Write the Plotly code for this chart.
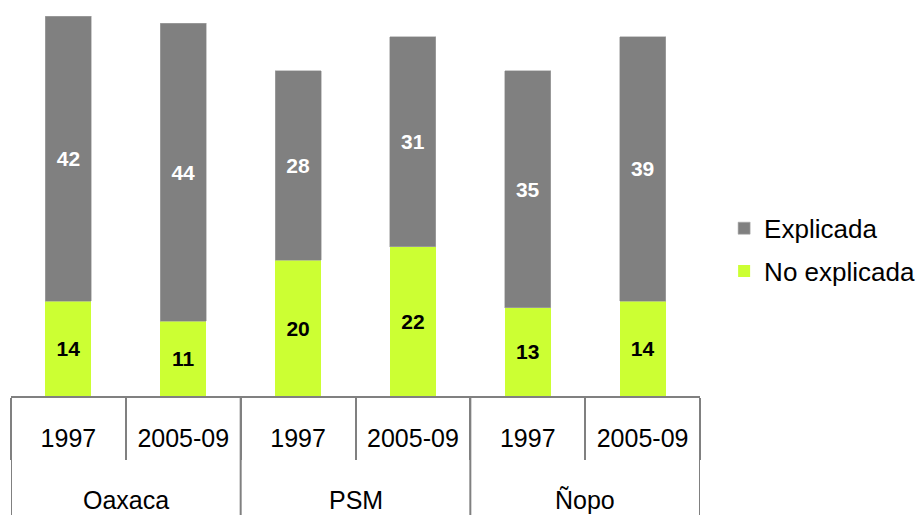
import plotly.graph_objects as go

groups = ["Oaxaca", "PSM", "Ñopo"]
years = ["1997", "2005-09", "1997", "2005-09", "1997", "2005-09"]
no_explicada = [14, 11, 20, 22, 13, 14]
explicada = [42, 44, 28, 31, 35, 39]

GREEN = "#ccff33"
GREY = "#808080"
FONT = "Liberation Sans, Arial, sans-serif"

xpos = list(range(len(years)))
n_per_group = len(years) // len(groups)
bounds = [i - 0.5 for i in range(len(years) + 1)]
group_bounds = [g * n_per_group - 0.5 for g in range(len(groups) + 1)]
group_centers = [g * n_per_group + (n_per_group - 1) / 2 for g in range(len(groups))]

AXIS_Y = 0.2311  # paper fraction where the x axis line sits

fig = go.Figure()
fig.add_trace(go.Bar(
    x=xpos, y=no_explicada, name="No explicada",
    marker=dict(color=GREEN, line=dict(width=0)),
    text=no_explicada, textposition="inside", insidetextanchor="middle",
    textfont=dict(color="black", size=21, family=FONT, weight="bold"),
    legendrank=2, legendgroup="b",
))
fig.add_trace(go.Bar(
    x=xpos, y=explicada, name="Explicada",
    marker=dict(color=GREY, line=dict(width=0.6, color="#a8a8a8")),
    text=explicada, textposition="inside", insidetextanchor="middle",
    textfont=dict(color="white", size=21, family=FONT, weight="bold"),
    legendrank=1, legendgroup="a",
))

for gx in group_bounds:
    fig.add_shape(type="line", xref="x", yref="paper", x0=gx, x1=gx, y0=0, y1=AXIS_Y,
                  line=dict(color=GREY, width=2), layer="above")

for gc, gname in zip(group_centers, groups):
    fig.add_annotation(x=gc, xref="x", y=0.029, yref="paper", text=gname, showarrow=False,
                       font=dict(size=25, family=FONT, color="black"),
                       xanchor="center", yanchor="middle")

fig.update_layout(
    width=918, height=515,
    margin=dict(l=11, r=218, t=0, b=0, autoexpand=False),
    barmode="stack", bargap=0.6,
    plot_bgcolor="white", paper_bgcolor="white",
    font=dict(family=FONT, size=25, color="black"),
    showlegend=True,
    legend=dict(x=1.035, xanchor="left", y=0.515, yanchor="middle",
                traceorder="grouped", tracegroupgap=6,
                font=dict(size=26), itemwidth=30),
    uniformtext=dict(mode=False),
)
fig.update_xaxes(
    range=[-0.5, len(years) - 0.5], showline=True, linecolor=GREY, linewidth=2,
    tickmode="array", tickvals=xpos, ticktext=years, ticks="",
    ticklabelstandoff=19, tickfont=dict(size=25),
    minor=dict(tickmode="array", tickvals=bounds, ticks="outside", ticklen=62,
               tickcolor=GREY, tickwidth=2, showgrid=False),
    showgrid=False, zeroline=False, automargin=False,
)
fig.update_yaxes(range=[0, 58.4], visible=False, showgrid=False, domain=[AXIS_Y, 1],
                 automargin=False)

fig.write_html("out.html", config={"displayModeBar": False},
               post_script="document.body.style.margin='0';document.body.style.padding='0';")
